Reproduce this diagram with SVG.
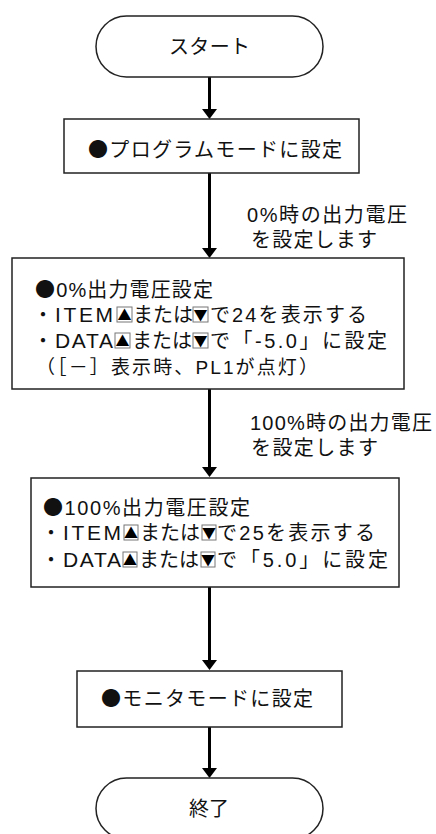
<svg xmlns="http://www.w3.org/2000/svg" width="436" height="834" viewBox="0 0 436 834">
<style>
.shape{fill:#fff;stroke:#222;stroke-width:1.5}
.t{font-family:"Liberation Sans","Noto Sans CJK JP",sans-serif;fill:#111}
.cj{font-family:"Noto Sans CJK JP",sans-serif}
.big{font-size:20px}
.mid{font-size:20px}
.lat{font-size:21px}
.sm{font-size:19px}
.frm{fill:#fff;stroke:#777;stroke-width:1}
.tri{font-family:"Noto Sans CJK JP",sans-serif;font-size:14px;fill:#000;text-anchor:middle}
.conn{fill:none;stroke:#000;stroke-width:3}
</style>
<defs>
<marker id="ah" viewBox="0 0 10 10" refX="2" refY="5" markerWidth="10" markerHeight="15" markerUnits="userSpaceOnUse" orient="auto" preserveAspectRatio="none">
<path d="M0,0 L10,5 L0,10 z" fill="#000"/>
</marker>
</defs>
<g id="connectors">
<path class="conn" d="M209.5,77 V111" marker-end="url(#ah)"/>
<path class="conn" d="M209.5,173 V250" marker-end="url(#ah)"/>
<path class="conn" d="M209.5,389 V469" marker-end="url(#ah)"/>
<path class="conn" d="M209.5,587 V662" marker-end="url(#ah)"/>
<path class="conn" d="M209.5,727 V770" marker-end="url(#ah)"/>
<text class="t mid" x="247" y="222" textLength="160">0%時の出力電圧</text>
<text class="t mid" x="251" y="247" textLength="126">を設定します</text>
<text class="t mid" x="250" y="430" textLength="182">100%時の出力電圧</text>
<text class="t mid" x="251" y="455" textLength="127">を設定します</text>
</g>
<g id="start">
<rect class="shape" x="96" y="16" width="227" height="61" rx="30.5"/>
<text class="t big" x="169" y="54" textLength="81">スタート</text>
</g>
<g id="program-mode">
<rect class="shape" x="64" y="119" width="295" height="54"/>
<text class="t big" x="88" y="157" textLength="254"><tspan class="cj">●</tspan>プログラムモードに設定</text>
</g>
<g id="zero-percent">
<rect class="shape" x="12" y="258" width="392" height="131"/>
<text class="t mid" x="35" y="297" textLength="178"><tspan class="cj">●</tspan>0%出力電圧設定</text>
<text class="t mid" x="33" y="322">・</text>
<text class="t lat" x="55" y="322" textLength="58">ITEM</text>
<rect class="frm" x="117" y="307" width="15" height="15"/>
<text class="tri" x="124.5" y="320">▲</text>
<text class="t mid" x="133" y="322" textLength="60">または</text>
<rect class="frm" x="193" y="307" width="15" height="15"/>
<text class="tri" x="200.5" y="320">▼</text>
<text class="t mid" x="210" y="322" textLength="157">で24を表示する</text>
<text class="t mid" x="33" y="348">・</text>
<text class="t lat" x="55" y="348" textLength="58">DATA</text>
<rect class="frm" x="115" y="333" width="15" height="15"/>
<text class="tri" x="122.5" y="346">▲</text>
<text class="t mid" x="132" y="348" textLength="60">または</text>
<rect class="frm" x="193" y="333" width="15" height="15"/>
<text class="tri" x="200.5" y="346">▼</text>
<text class="t mid" x="210" y="348" textLength="177">で「-5.0」に設定</text>
<text class="t sm" x="36" y="374" textLength="282">（［－］表示時、PL1が点灯）</text>
</g>
<g id="hundred-percent">
<rect class="shape" x="31" y="478" width="368" height="109"/>
<text class="t mid" x="43" y="515" textLength="207"><tspan class="cj">●</tspan>100%出力電圧設定</text>
<text class="t mid" x="41" y="540">・</text>
<text class="t lat" x="63" y="540" textLength="58">ITEM</text>
<rect class="frm" x="124" y="525" width="14" height="15"/>
<text class="tri" x="131" y="538">▲</text>
<text class="t mid" x="140" y="540" textLength="60">または</text>
<rect class="frm" x="202" y="525" width="14" height="15"/>
<text class="tri" x="209" y="538">▼</text>
<text class="t mid" x="217" y="540" textLength="158">で25を表示する</text>
<text class="t mid" x="41" y="567">・</text>
<text class="t lat" x="63" y="567" textLength="58">DATA</text>
<rect class="frm" x="123" y="552" width="14" height="15"/>
<text class="tri" x="130" y="565">▲</text>
<text class="t mid" x="139" y="567" textLength="60">または</text>
<rect class="frm" x="201" y="552" width="14" height="15"/>
<text class="tri" x="208" y="565">▼</text>
<text class="t mid" x="217" y="567" textLength="171">で「5.0」に設定</text>
</g>
<g id="monitor-mode">
<rect class="shape" x="77" y="671" width="265" height="56"/>
<text class="t big" x="101" y="706" textLength="212"><tspan class="cj">●</tspan>モニタモードに設定</text>
</g>
<g id="end">
<rect class="shape" x="96" y="778" width="227" height="61" rx="30.5"/>
<text class="t big" x="189" y="816" textLength="40">終了</text>
</g>
</svg>
